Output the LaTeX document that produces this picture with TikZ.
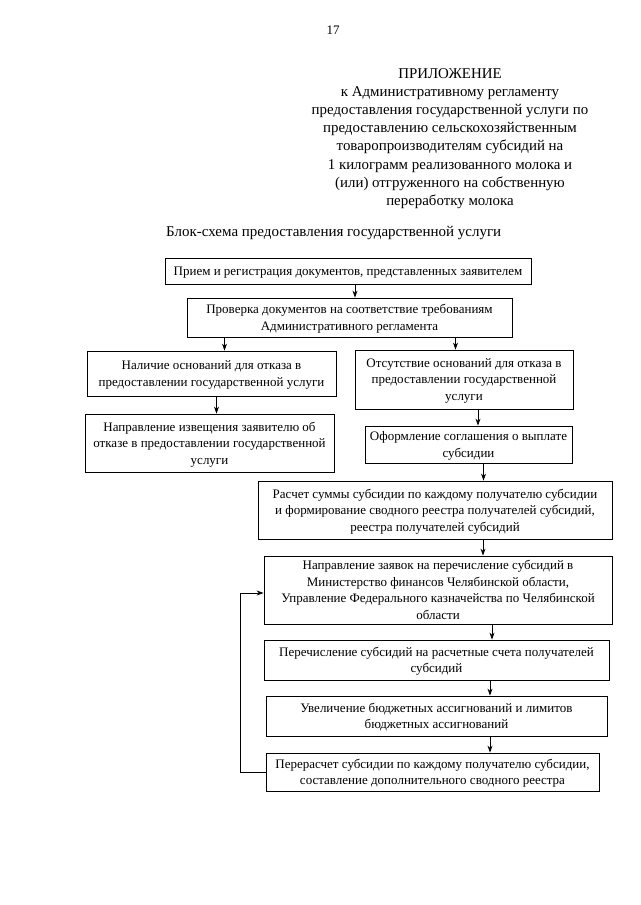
\documentclass[tikz,border=0pt]{standalone}
\usepackage{fontspec}
\setmainfont{Liberation Serif}
\usetikzlibrary{arrows.meta}
\begin{document}
\begin{tikzpicture}[x=1pt,y=-1pt,
  box/.style={draw=black,line width=0.8pt,align=center,inner sep=0pt,
    font=\fontsize{13}{16.5}\selectfont,text depth=-3.5pt},
  arr/.style={line width=0.8pt,-{Stealth[length=7pt,width=5pt]}},
  head/.style={align=center,font=\fontsize{14.9}{18.2}\selectfont,inner sep=0pt}]
\useasboundingbox (0,0) rectangle (640,905);
\fill[white] (0,0) rectangle (640,905);
\node[inner sep=0pt,font=\fontsize{13}{15}\selectfont] (pg) at (333,30) {17};
\node[head,anchor=north] (hdr) at (450,68) {ПРИЛОЖЕНИЕ\\к Административному регламенту\\предоставления государственной услуги по\\предоставлению сельскохозяйственным\\товаропроизводителям субсидий на\\1 килограмм реализованного молока и\\(или) отгруженного на собственную\\переработку молока};
\node[head,anchor=west,font=\fontsize{15}{18}\selectfont] (ttl) at (166,233) {Блок-схема предоставления государственной услуги};

\node[box,minimum width=366,minimum height=26] (b1) at (348,271) {Прием и регистрация документов, представленных заявителем};
\node[box,minimum width=325,minimum height=39] (b2) at (349.5,317.5) {Проверка документов на соответствие требованиям\\Административного регламента};
\node[box,minimum width=249,minimum height=45] (b3) at (211.5,373.5) {Наличие оснований для отказа в\\предоставлении государственной услуги};
\node[box,minimum width=249,minimum height=58] (b5) at (209.5,443) {Направление извещения заявителю об\\отказе в предоставлении государственной\\услуги};
\node[box,minimum width=218,minimum height=59] (b4) at (464,379.5) {Отсутствие оснований для отказа в\\предоставлении государственной\\услуги};
\node[box,minimum width=207,minimum height=37] (b6) at (468.5,444.5) {Оформление соглашения о выплате\\субсидии};
\node[box,minimum width=354,minimum height=58] (b7) at (435,510) {Расчет суммы субсидии по каждому получателю субсидии\\и формирование сводного реестра получателей субсидий,\\реестра получателей субсидий};
\node[box,minimum width=348,minimum height=68,text depth=-8pt] (b8) at (438,590) {Направление заявок на перечисление субсидий в\\Министерство финансов Челябинской области,\\Управление Федерального казначейства по Челябинской\\области};
\node[box,minimum width=345,minimum height=40] (b9) at (436.5,660) {Перечисление субсидий на расчетные счета получателей\\субсидий};
\node[box,minimum width=341,minimum height=40] (b10) at (436.5,716) {Увеличение бюджетных ассигнований и лимитов\\бюджетных ассигнований};
\node[box,minimum width=333,minimum height=38] (b11) at (432.5,772) {Перерасчет субсидии по каждому получателю субсидии,\\составление дополнительного сводного реестра};

\draw[arr] ([xshift=7]b1.south) -- ([xshift=7]b1.south |- b2.north);
\draw[arr] ([xshift=-125]b2.south) -- ([xshift=-125]b2.south |- b3.north);
\draw[arr] ([xshift=106]b2.south) -- ([xshift=106]b2.south |- b4.north);
\draw[arr] ([xshift=5]b3.south) -- ([xshift=5]b3.south |- b5.north);
\draw[arr] ([xshift=14]b4.south) -- ([xshift=14]b4.south |- b6.north);
\draw[arr] ([xshift=15]b6.south) -- ([xshift=15]b6.south |- b7.north);
\draw[arr] ([xshift=48]b7.south) -- ([xshift=48]b7.south |- b8.north);
\draw[arr] ([xshift=54]b8.south) -- ([xshift=54]b8.south |- b9.north);
\draw[arr] ([xshift=53.5]b9.south) -- ([xshift=53.5]b9.south |- b10.north);
\draw[arr] ([xshift=53.5]b10.south) -- ([xshift=53.5]b10.south |- b11.north);
\coordinate (fb1) at (240,772);
\coordinate (fb2) at (240,593);
\draw[arr] (b11.west) -- (fb1) -- (fb2) -- (fb2 -| b8.west);
\end{tikzpicture}
\end{document}
